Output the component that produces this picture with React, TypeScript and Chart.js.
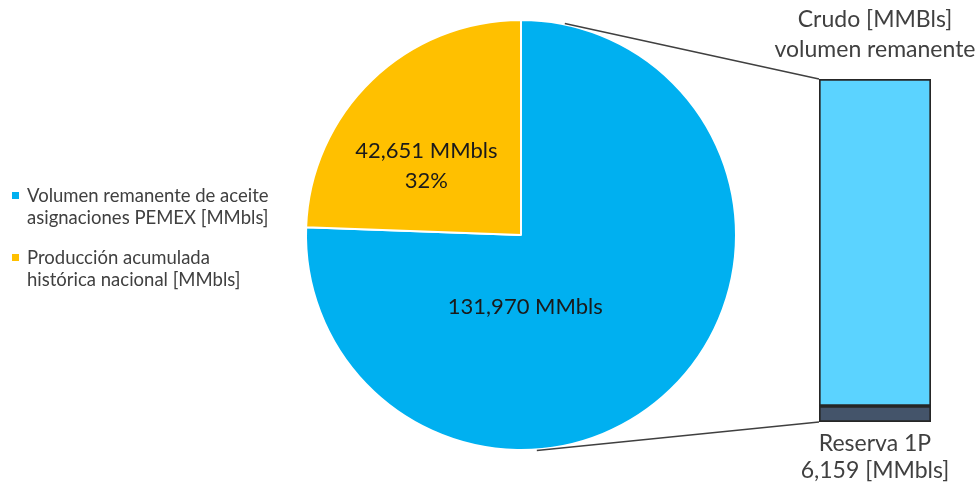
import { useEffect, useRef } from "react";
import { Chart, registerables } from "chart.js";
Chart.register(...registerables);

const pieCategories = [
  "Volumen remanente de aceite asignaciones PEMEX [MMbls]",
  "Producción acumulada histórica nacional [MMbls]",
];
const legendLines = [
  ["Volumen remanente de aceite", "asignaciones PEMEX [MMbls]"],
  ["Producción acumulada", "histórica nacional [MMbls]"],
];
const pieValues = [131970, 42651];
const pieColors = ["#00B0F0", "#FFC000"];

const barCategories = ["Crudo"];
const reserva1P = [6159];
const remanenteTotal = [131970];
const barColors = ["#44546A", "#5BD3FF"];

const FONT = "Lato, 'Open Sans', sans-serif";
const fmt = (v: number) => v.toLocaleString("en-US");

export default function App() {
  const pieRef = useRef<HTMLCanvasElement>(null);
  const barRef = useRef<HTMLCanvasElement>(null);

  useEffect(() => {
    const pieLabelPlugin = {
      id: "pieLabels",
      afterDatasetsDraw(chart: any) {
        const meta = chart.getDatasetMeta(0);
        const arc0 = meta.data[0];
        const ctx = chart.ctx;
        const cx = arc0.x, cy = arc0.y, r = arc0.outerRadius;
        ctx.save();
        ctx.fillStyle = "#1a1a1a";
        ctx.font = `22px ${FONT}`;
        ctx.textAlign = "center";
        ctx.textBaseline = "middle";
        ctx.fillText(`${fmt(pieValues[0])} MMbls`, cx + 0.02 * r, cy + 0.335 * r);
        ctx.fillText(`${fmt(pieValues[1])} MMbls`, cx - 0.44 * r, cy - 0.39 * r);
        const pct = Math.round((pieValues[1] / pieValues[0]) * 100);
        ctx.fillText(`${pct}%`, cx - 0.44 * r, cy - 0.25 * r);
        ctx.restore();
      },
    };

    const pie = new Chart(pieRef.current!, {
      type: "pie",
      data: {
        labels: pieCategories,
        datasets: [
          {
            data: pieValues,
            backgroundColor: pieColors,
            borderColor: "#ffffff",
            borderWidth: 2,
          },
        ],
      },
      options: {
        animation: false,
        responsive: false,
        devicePixelRatio: 1,
        layout: { padding: { left: 305, right: 240, top: 17, bottom: 35 } },
        plugins: { legend: { display: false }, tooltip: { enabled: false } },
      },
      plugins: [pieLabelPlugin],
    });

    const connectorPlugin = {
      id: "connectors",
      afterDatasetsDraw(chart: any) {
        const ctx = chart.ctx;
        const top = chart.getDatasetMeta(1).data[0];
        const bottom = chart.getDatasetMeta(0).data[0];
        const left = top.x - top.width / 2;
        const topY = top.y;
        const baseY = bottom.base;
        const pm = pie.getDatasetMeta(0).data[0] as any;
        const cx = pm.x, cy = pm.y, r = pm.outerRadius + 1;
        const a1 = (-78.3 * Math.PI) / 180;
        const a2 = (85.8 * Math.PI) / 180;
        ctx.save();
        ctx.strokeStyle = "#404040";
        ctx.lineWidth = 1.5;
        ctx.beginPath();
        ctx.moveTo(cx + r * Math.cos(a1), cy + r * Math.sin(a1));
        ctx.lineTo(left, topY);
        ctx.moveTo(cx + r * Math.cos(a2), cy + r * Math.sin(a2));
        ctx.lineTo(left, baseY);
        ctx.stroke();

        ctx.fillStyle = "#404040";
        ctx.font = `23px ${FONT}`;
        ctx.textAlign = "center";
        ctx.textBaseline = "middle";
        const mx = top.x;
        ctx.fillText("Crudo [MMBls]", mx, topY - 59);
        ctx.fillText("volumen remanente", mx, topY - 29);
        ctx.fillText("Reserva 1P", mx, baseY + 22);
        ctx.fillText(`${fmt(reserva1P[0])} [MMbls]`, mx, baseY + 49);
        ctx.restore();
      },
    };

    const bar = new Chart(barRef.current!, {
      type: "bar",
      data: {
        labels: barCategories,
        datasets: [
          {
            label: "Reserva 1P",
            data: reserva1P,
            backgroundColor: barColors[0],
            borderColor: "#262626",
            borderWidth: 2,
            borderSkipped: false,
          },
          {
            label: "Volumen remanente",
            data: remanenteTotal.map((v, i) => v - reserva1P[i]),
            backgroundColor: barColors[1],
            borderColor: "#262626",
            borderWidth: 2,
            borderSkipped: false,
          },
        ],
      },
      options: {
        animation: false,
        responsive: false,
        devicePixelRatio: 1,
        layout: { padding: { left: 819, right: 46, top: 79, bottom: 66 } },
        datasets: { bar: { barPercentage: 1, categoryPercentage: 1 } },
        scales: {
          x: { display: false, stacked: true },
          y: { display: false, stacked: true, min: 0, max: remanenteTotal[0] },
        },
        plugins: { legend: { display: false }, tooltip: { enabled: false } },
      },
      plugins: [connectorPlugin],
    });

    return () => {
      bar.destroy();
      pie.destroy();
    };
  }, []);

  return (
    <div
      style={{
        position: "absolute",
        left: 0,
        top: 0,
        width: 977,
        height: 488,
        background: "#ffffff",
        overflow: "hidden",
      }}
    >
      <canvas ref={pieRef} width={977} height={488} style={{ position: "absolute", left: 0, top: 0 }} />
      <canvas
        ref={barRef}
        width={977}
        height={488}
        style={{ position: "absolute", left: 0, top: 0, pointerEvents: "none" }}
      />
      {legendLines.map((lines, i) => (
        <div
          key={i}
          style={{
            position: "absolute",
            left: 12,
            top: i === 0 ? 184 : 246,
            fontFamily: FONT,
            fontSize: 18.5,
            lineHeight: "22px",
            color: "#404040",
            whiteSpace: "nowrap",
          }}
        >
          <span
            style={{
              position: "absolute",
              left: 0,
              top: 8,
              width: 7,
              height: 7,
              background: pieColors[i],
            }}
          />
          <div style={{ marginLeft: 15 }}>
            {lines.map((l, j) => (
              <div key={j}>{l}</div>
            ))}
          </div>
        </div>
      ))}
    </div>
  );
}
